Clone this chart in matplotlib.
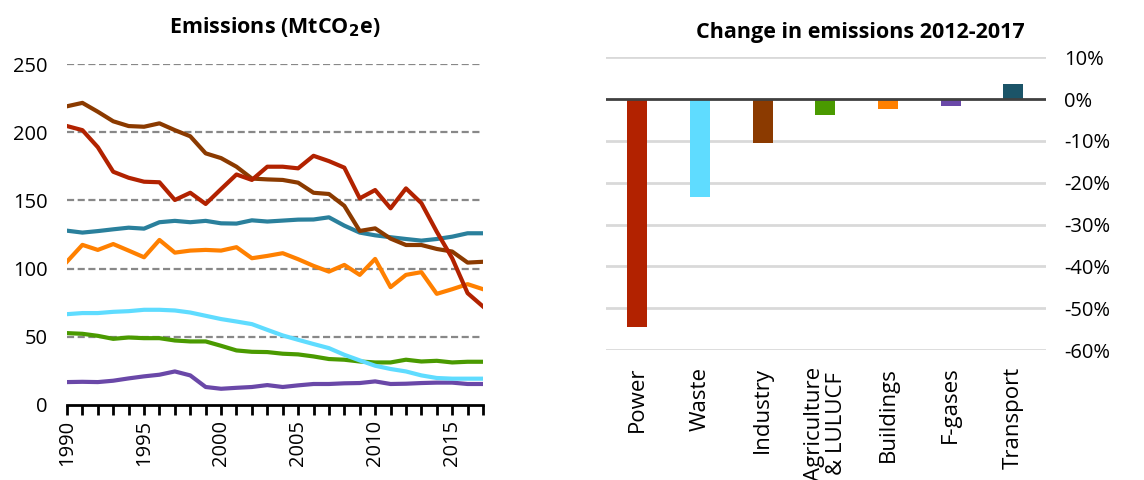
import numpy as np
import matplotlib
matplotlib.use('Agg')
import matplotlib.pyplot as plt

plt.rcParams['font.family'] = ['Open Sans', 'DejaVu Sans']

years = list(range(1990, 2018))

power = [204.5, 201.5, 189, 171, 166.6, 163.7, 163.3, 150.3, 155.6, 147.4,
         158.3, 169, 165, 174.7, 174.7, 173.5, 182.7, 178.8, 174, 151.5,
         157.6, 144.2, 158.8, 148, 127, 107.6, 82, 72.2]
industry = [219, 221.5, 215, 208, 204.5, 204, 206.5, 201.5, 197, 184.5,
            181, 174.7, 166, 165.4, 165, 163, 155.6, 154.7, 146, 127.6,
            129.5, 122, 117.3, 117.3, 114.4, 112.5, 104.4, 105]
transport = [127.8, 126.4, 127.5, 128.8, 130, 129.3, 134, 135, 134, 135,
             133.2, 133, 135.4, 134.5, 135.2, 135.9, 136, 137.6, 131.5, 126.4,
             124.4, 123, 121.7, 120.5, 121.7, 123.4, 125.9, 125.9]
buildings = [105.1, 117.4, 113.7, 118, 113.2, 108.3, 121, 111.7, 113.2, 113.7,
             113.2, 115.7, 107.6, 109.3, 111.3, 106.9, 102, 97.8, 102.7, 95.4,
             107.1, 86.4, 95.4, 97.4, 81.5, 84.9, 88.6, 84.9]
waste = [66.6, 67.4, 67.4, 68.3, 68.8, 69.8, 69.8, 69.3, 67.8, 65.4,
         63, 61.2, 59.3, 55.1, 51, 47.8, 44.7, 41.7, 36.8, 32.7,
         28.8, 26.4, 24.6, 21.7, 19.8, 19.3, 19.3, 19.3]
agriculture = [52.7, 52.2, 50.7, 48.5, 49.5, 49, 49, 47.3, 46.6, 46.6,
               43.4, 40, 39, 38.8, 37.6, 37.1, 35.6, 33.7, 33.2, 31.9,
               31.2, 31.2, 33.2, 31.9, 32.4, 31.2, 31.7, 31.7]
fgases = [16.8, 17, 16.8, 17.8, 19.5, 21, 22.2, 24.6, 21.7, 13.2,
          11.9, 12.6, 13.2, 14.6, 13.2, 14.4, 15.4, 15.4, 15.9, 16.1,
          17.3, 15.4, 15.6, 16.1, 16.4, 16.4, 15.4, 15.4]

categories = ['Power', 'Waste', 'Industry', 'Agriculture\n& LULUCF',
              'Buildings', 'F-gases', 'Transport']
change = [-54.6, -23.4, -10.5, -3.8, -2.4, -1.6, 3.7]

c_power = '#b22200'
c_waste = '#5fdcff'
c_industry = '#8b3a00'
c_agri = '#4a9a00'
c_build = '#ff8000'
c_fgas = '#6a48a8'
c_transport_line = '#2a809c'
c_transport_bar = '#1b5468'

fig = plt.figure(figsize=(11.44, 4.8), dpi=100)

# left: emissions time series
ax1 = fig.add_axes([67/1144, 1 - 405/480, 416/1144, 341/480])
for v in [50, 100, 150, 200, 250]:
    ax1.axhline(v, color='#888888', lw=1.6, ls=(0, (3.2, 1.6)), zorder=1)
ax1.plot(years, fgases, color=c_fgas, lw=3, zorder=3)
ax1.plot(years, agriculture, color=c_agri, lw=3, zorder=3)
ax1.plot(years, waste, color=c_waste, lw=3, zorder=3)
ax1.plot(years, buildings, color=c_build, lw=3, zorder=3)
ax1.plot(years, transport, color=c_transport_line, lw=3, zorder=3)
ax1.plot(years, industry, color=c_industry, lw=3, zorder=3)
ax1.plot(years, power, color=c_power, lw=3, zorder=3)
ax1.set_xlim(1990, 2017)
ax1.set_ylim(0, 250)
for s in ['top', 'right', 'left']:
    ax1.spines[s].set_visible(False)
ax1.spines['bottom'].set_linewidth(2)
ax1.spines['bottom'].set_color('black')
ax1.set_xticks(range(1990, 2018, 5))
ax1.set_xticks(years, minor=True)
ax1.tick_params(axis='x', which='both', length=7, width=2, direction='out',
                labelsize=14.5, labelrotation=90, pad=4)
ax1.set_yticks([0, 50, 100, 150, 200, 250])
ax1.tick_params(axis='y', length=0, labelsize=14.5, pad=14)
ax1.set_title('Emissions (MtCO$_\\mathbf{2}$e)', fontsize=15.5,
              fontweight='bold', pad=22)

# right: change in emissions 2012-2017
ax2 = fig.add_axes([606/1144, 1 - 350/480, 440/1144, 292.7/480])
x = np.arange(len(categories))
bar_colors = [c_power, c_waste, c_industry, c_agri, c_build, c_fgas,
              c_transport_bar]
for v in range(-60, 11, 10):
    if v != 0:
        ax2.axhline(v, color='#d9d9d9', lw=2, zorder=1)
ax2.bar(x, change, width=0.32, color=bar_colors, zorder=2)
ax2.axhline(0, color='#404040', lw=2, zorder=3)
ax2.set_xlim(-0.5, 6.52)
ax2.set_ylim(-60, 10)
for s in ax2.spines.values():
    s.set_visible(False)
ax2.yaxis.tick_right()
ax2.set_yticks(range(-60, 11, 10))
ax2.set_yticklabels([f'{v}%' for v in range(-60, 11, 10)])
ax2.tick_params(axis='y', length=0, labelsize=14.5, pad=13)
ax2.set_xticks(x)
ax2.set_xticklabels(categories, rotation=90, fontsize=16, va='top',
                    linespacing=1.05)
ax2.tick_params(axis='x', length=0, pad=12)
ax2.set_title('Change in emissions 2012-2017', fontsize=15.5,
              fontweight='bold', pad=14, x=(860 - 606) / 440)

fig.savefig('out.png', dpi=100)
